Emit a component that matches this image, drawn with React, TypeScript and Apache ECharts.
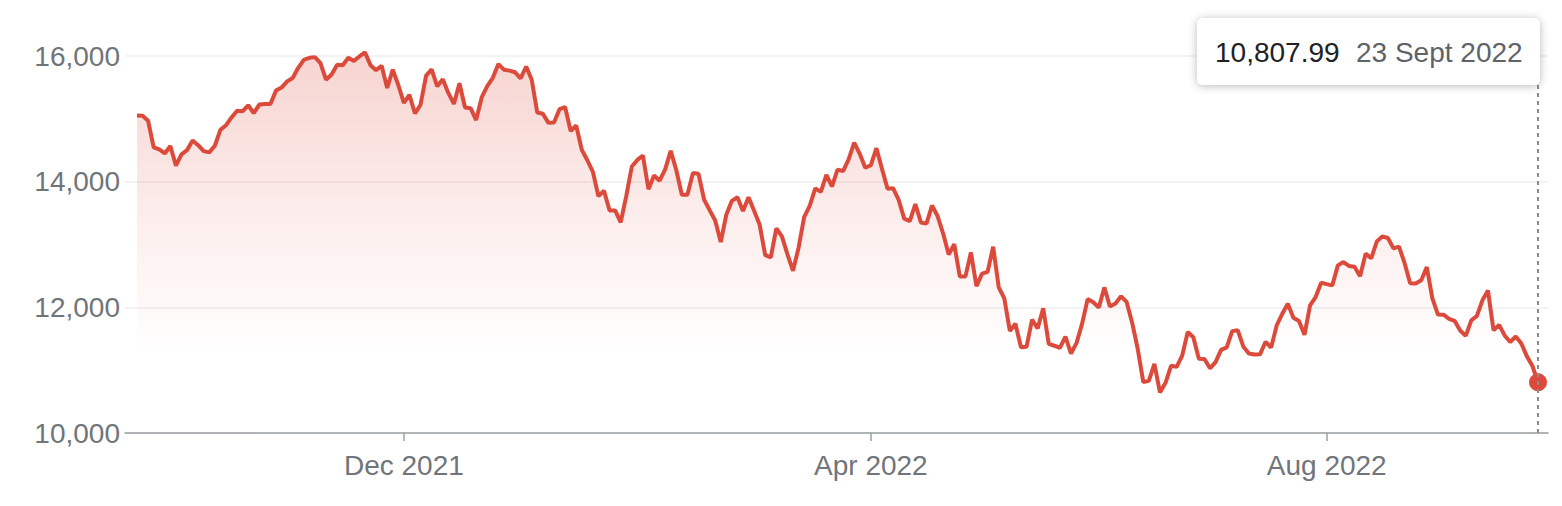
import React, { useEffect, useRef } from "react";
import * as echarts from "echarts";

// Trading days (month -> day numbers)
const months = ["2021-09", "2021-10", "2021-11", "2021-12", "2022-01", "2022-02", "2022-03", "2022-04", "2022-05", "2022-06", "2022-07", "2022-08", "2022-09"];
const monthDays = [
  [23, 24, 27, 28, 29, 30],
  [1, 4, 5, 6, 7, 8, 11, 12, 13, 14, 15, 18, 19, 20, 21, 22, 25, 26, 27, 28, 29],
  [1, 2, 3, 4, 5, 8, 9, 10, 11, 12, 15, 16, 17, 18, 19, 22, 23, 24, 26, 29, 30],
  [1, 2, 3, 6, 7, 8, 9, 10, 13, 14, 15, 16, 17, 20, 21, 22, 23, 27, 28, 29, 30, 31],
  [3, 4, 5, 6, 7, 10, 11, 12, 13, 14, 18, 19, 20, 21, 24, 25, 26, 27, 28, 31],
  [1, 2, 3, 4, 7, 8, 9, 10, 11, 14, 15, 16, 17, 18, 22, 23, 24, 25, 28],
  [1, 2, 3, 4, 7, 8, 9, 10, 11, 14, 15, 16, 17, 18, 21, 22, 23, 24, 25, 28, 29, 30, 31],
  [1, 4, 5, 6, 7, 8, 11, 12, 13, 14, 18, 19, 20, 21, 22, 25, 26, 27, 28, 29],
  [2, 3, 4, 5, 6, 9, 10, 11, 12, 13, 16, 17, 18, 19, 20, 23, 24, 25, 26, 27, 31],
  [1, 2, 3, 6, 7, 8, 9, 10, 13, 14, 15, 16, 17, 21, 22, 23, 24, 27, 28, 29, 30],
  [1, 5, 6, 7, 8, 11, 12, 13, 14, 15, 18, 19, 20, 21, 22, 25, 26, 27, 28, 29],
  [1, 2, 3, 4, 5, 8, 9, 10, 11, 12, 15, 16, 17, 18, 19, 22, 23, 24, 25, 26, 29, 30, 31],
  [1, 2, 6, 7, 8, 9, 12, 13, 14, 15, 16, 19, 20, 21, 22, 23],
];

const closes = [
  15052, 15048, 14970, 14547, 14513, 14449,
  14567, 14256, 14434, 14502, 14655, 14580, 14486, 14466, 14572, 14824, 14897, 15022, 15130, 15122, 15216, 15090, 15227, 15236, 15235, 15449, 15498,
  15596, 15650, 15812, 15940, 15972, 15982, 15887, 15623, 15704, 15861, 15853, 15974, 15922, 15993, 16057, 15854, 15775, 15845, 15491, 15782, 15538,
  15254, 15381, 15085, 15225, 15687, 15786, 15517, 15630, 15413, 15237, 15566, 15180, 15170, 14980, 15341, 15522, 15653, 15871, 15782, 15767, 15741, 15645,
  15833, 15622, 15100, 15081, 14936, 14943, 15153, 15188, 14806, 14894, 14507, 14341, 14155, 13769, 13856, 13540, 13542, 13353, 13771, 14240,
  14346, 14417, 13879, 14098, 14015, 14195, 14491, 14186, 13791, 13790, 14139, 14125, 13717, 13548, 13381, 13038, 13474, 13695, 13751,
  13532, 13752, 13538, 13313, 12831, 12796, 13256, 13130, 12843, 12581, 12949, 13437, 13615, 13894, 13838, 14109, 13923, 14192, 14169, 14354, 14620, 14443, 14221,
  14262, 14533, 14204, 13888, 13897, 13711, 13411, 13372, 13644, 13351, 13332, 13620, 13453, 13175, 12840, 13005, 12491, 12489, 12872, 12335,
  12536, 12564, 12965, 12318, 12145, 11624, 11738, 11365, 11371, 11805, 11663, 11985, 11418, 11389, 11355, 11535, 11265, 11435, 11741, 12131, 12081,
  11995, 12317, 12013, 12062, 12175, 12086, 11754, 11341, 10809, 10829, 11100, 10646, 10798, 11069, 11053, 11232, 11608, 11524, 11182, 11178, 11029,
  11128, 11322, 11362, 11621, 11635, 11373, 11265, 11248, 11252, 11452, 11360, 11713, 11898, 12059, 11834, 11783, 11563, 12032, 12163, 12391,
  12369, 12349, 12668, 12721, 12658, 12645, 12494, 12855, 12780, 13047, 13129, 13103, 12939, 12966, 12706, 12382, 12381, 12432, 12640, 12142, 11884, 11883, 11817,
  11785, 11631, 11545, 11792, 11862, 12112, 12266, 11634, 11720, 11553, 11448, 11535, 11425, 11220, 11066, 10807.99,
];

const xTickDates = ["2021-12-01", "2022-04-01", "2022-08-01"];
const xTickLabels = ["Dec 2021", "Apr 2022", "Aug 2022"];
const yTicks = [10000, 12000, 14000, 16000];
const tooltipValue = "10,807.99";
const tooltipDate = "23 Sept 2022";

const dates: string[] = [];
months.forEach((m, i) => {
  monthDays[i].forEach((d) => dates.push(m + "-" + String(d).padStart(2, "0")));
});

const FONT = "Arial, 'Liberation Sans', sans-serif";
const RED = "#dc4a3b";
const FS = 28;

export default function App() {
  const ref = useRef<HTMLDivElement>(null);
  useEffect(() => {
    document.body.style.margin = "0";
    const chart = echarts.init(ref.current!, null, { renderer: "svg" });
    const last = closes.length - 1;
    const isTick = (_i: number, v: string) => xTickDates.includes(v);
    chart.setOption({
      animation: false,
      grid: [
        { left: 137, right: 24, top: 56, bottom: 73 },
        { left: 125, right: 14, top: 56, bottom: 73 },
      ],
      xAxis: [
        {
          type: "category",
          gridIndex: 0,
          data: dates,
          boundaryGap: false,
          axisLine: { show: false },
          axisTick: { show: true, interval: isTick, length: 8, lineStyle: { color: "#9aa0a6", width: 1.5 } },
          axisLabel: {
            interval: isTick,
            margin: 18,
            color: "#70757a",
            fontSize: FS,
            fontFamily: FONT,
            formatter: (v: string) => {
              const k = xTickDates.indexOf(v);
              return k >= 0 ? xTickLabels[k] : "";
            },
          },
          splitLine: { show: false },
        },
        {
          type: "value",
          gridIndex: 1,
          min: 0,
          max: 1,
          axisLine: { show: true, lineStyle: { color: "#9aa0a6", width: 1.5 } },
          axisTick: { show: false },
          axisLabel: { show: false },
          splitLine: { show: false },
        },
      ],
      yAxis: [
        {
          type: "value",
          gridIndex: 0,
          min: 10000,
          max: 16000,
          interval: 2000,
          show: false,
          splitLine: { show: false },
        },
        {
          type: "value",
          gridIndex: 1,
          min: yTicks[0],
          max: yTicks[yTicks.length - 1],
          interval: 2000,
          axisLine: { show: false },
          axisTick: { show: false },
          axisLabel: {
            color: "#70757a",
            fontSize: FS,
            fontFamily: FONT,
            margin: 5,
            formatter: (v: number) => v.toLocaleString("en-US"),
          },
          splitLine: { show: true, lineStyle: { color: "#efefef", width: 1.5 } },
        },
      ],
      series: [
        {
          type: "line",
          xAxisIndex: 0,
          yAxisIndex: 0,
          data: closes,
          symbol: "none",
          clip: false,
          lineStyle: { color: RED, width: 4 },
          areaStyle: {
            origin: "start",
            color: new echarts.graphic.LinearGradient(0, 0, 0, 1, [
              { offset: 0, color: "rgba(220,74,59,0.34)" },
              { offset: 0.45, color: "rgba(220,74,59,0.13)" },
              { offset: 0.8, color: "rgba(220,74,59,0.0)" },
              { offset: 1, color: "rgba(220,74,59,0)" },
            ]),
          },
          markLine: {
            silent: true,
            symbol: "none",
            label: { show: false },
            lineStyle: { color: "#8a8d91", type: [4, 4], width: 2 },
            data: [{ xAxis: dates[last] }],
          },
          z: 3,
        },
        {
          type: "scatter",
          xAxisIndex: 0,
          yAxisIndex: 0,
          data: [[dates[last], closes[last]]],
          symbol: "circle",
          symbolSize: 18,
          itemStyle: { color: RED, opacity: 1 },
          z: 4,
        },
      ],
      graphic: [
        {
          type: "rect",
          z: 100,
          shape: { x: 1197, y: 18, width: 343, height: 67, r: 6 },
          style: { fill: "#fff", shadowBlur: 8, shadowColor: "rgba(0,0,0,0.28)", shadowOffsetY: 1 },
        },
        {
          type: "text",
          z: 101,
          x: 1215,
          y: 52,
          style: { text: tooltipValue, fill: "#202124", fontSize: FS, fontFamily: FONT, verticalAlign: "middle" },
        },
        {
          type: "text",
          z: 101,
          x: 1356,
          y: 52,
          style: { text: tooltipDate, fill: "#5f6368", fontSize: FS, fontFamily: FONT, verticalAlign: "middle" },
        },
      ],
    });
    return () => chart.dispose();
  }, []);
  return <div ref={ref} style={{ width: 1562, height: 506 }} />;
}
